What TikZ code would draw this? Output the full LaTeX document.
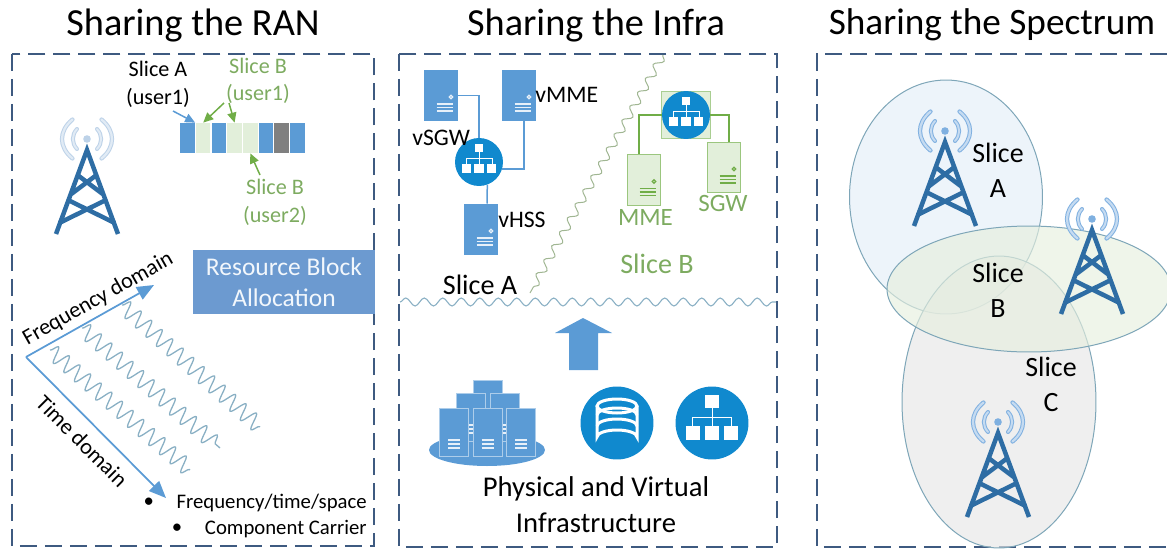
\documentclass[tikz,border=0pt]{standalone}
\usepackage{fontspec}
\setmainfont{Carlito}
\usetikzlibrary{positioning, arrows.meta, calc, shapes.geometric, decorations.pathmorphing}

\definecolor{framec}{HTML}{3E5A80}
\definecolor{srvblue}{HTML}{5B9BD5}
\definecolor{srvgreen}{HTML}{E2EFDA}
\definecolor{linegreen}{HTML}{70AD47}
\definecolor{textgreen}{HTML}{7DAB60}
\definecolor{hubblue}{HTML}{1089CE}
\definecolor{towerblue}{HTML}{2E6DA4}
\definecolor{wavepale}{HTML}{BDD2E8}
\definecolor{wavemid}{HTML}{7FB0E0}
\definecolor{snakec}{HTML}{8AB0C4}
\definecolor{rimc}{HTML}{7EA6B8}
\definecolor{cella}{HTML}{E4EEF8}
\definecolor{cellb}{HTML}{E6EFDE}
\definecolor{cellc}{HTML}{E6E6E6}
\definecolor{boxblue}{HTML}{6C9AD0}

\begin{document}
\begin{tikzpicture}[
        x=0.02cm, y=-0.02cm, % 1 unit = 1 pixel of the picture
        % --- STYLES ---
        panel/.style={
                draw=framec,
                line width=0.04cm,
                dash pattern=on 0.34cm off 0.16cm
            },
        titletxt/.style={
                font=\fontsize{#1}{24}\selectfont,
                inner sep=0
            },
        txt/.style={
                font=\fontsize{#1}{\the\dimexpr#1pt*5/4\relax}\selectfont,
                align=center,
                inner sep=0
            },
        slot/.style={
                minimum width=0.29cm,
                minimum height=0.6cm,
                inner sep=0,
                fill=#1
            },
        ptr/.style={
                -{Triangle[length=0.2cm, width=0.18cm]},
                line width=0.03cm,
                color=#1
            },
        axis/.style={
                -{Triangle[length=0.34cm, width=0.28cm]},
                line width=0.035cm,
                color=srvblue
            },
        ripple/.style={
                draw=snakec,
                line width=0.026cm,
                decorate,
                decoration={snake, amplitude=0.16cm, segment length=0.28cm}
            },
        link/.style={
                line width=0.03cm,
                color=#1
            },
        cell/.style={
                draw=rimc,
                line width=0.02cm,
                fill=#1,
                fill opacity=0.65
            },
        % --- ICONS ---
        pics/tower/.style={code={
                    \foreach \sgn in {-1,1}{
                            \draw[draw=#1, double=#1!45!white, line width=0.02cm, double distance=0.04cm, line cap=round]
                            ($(0,-11)+(\sgn*10,-10)$) .. controls ($(0,-11)+(\sgn*15.5,-4)$) and ($(0,-11)+(\sgn*15.5,4)$) .. ($(0,-11)+(\sgn*10,10)$);
                            \draw[draw=#1, double=#1!45!white, line width=0.02cm, double distance=0.045cm, line cap=round]
                            ($(0,-11)+(\sgn*14.5,-19.5)$) .. controls ($(0,-11)+(\sgn*28.5,-8)$) and ($(0,-11)+(\sgn*28.5,8)$) .. ($(0,-11)+(\sgn*14.5,19.5)$);
                        }
                    \fill[#1] (0,-11) circle[radius=3.8];
                    \draw[towerblue, line width=0.09cm, line join=miter]
                    (-31,84) -- (0,0) -- (31,84)
                    (-9.5,25) -- (17,45) (9.5,25) -- (-17,45)
                    (-19,50) -- (27.8,73) (19,50) -- (-27.8,73);
                }},
        pics/server/.style n args={3}{code={
                    \node[minimum width=0.66cm, minimum height=1.02cm, inner sep=0, fill=#1, draw=#2, line width=0.02cm] (-box) {};
                    \draw[#3, line width=0.025cm] (10.5,1.5) circle[radius=1.7];
                    \draw[#3, line width=0.025cm] (-4,8.5) -- (12,8.5) (-4,12) -- (12,12) (-4,15.5) -- (12,15.5);
                }},
        pics/rack/.style={code={
                    \node[minimum width=0.58cm, minimum height=0.96cm, inner sep=0, fill=srvblue, draw=white!50!srvblue, line width=0.015cm] (-box) {};
                    \draw[white!85!srvblue, line width=0.025cm] (-6,8) -- (6,8) (-6,12) -- (6,12) (-6,16) -- (6,16);
                }},
        pics/hub/.style={code={
                    \node[circle, minimum size=0.96cm, inner sep=0, fill=hubblue, transform shape] (-c) {};
                    \draw[white, line width=0.012cm] (0,-14) -- (0,6.5) (-12.8,6.5) -- (-12.8,-4) -- (12.8,-4) -- (12.8,6.5);
                    \foreach \px/\py/\ps in {0/-14.2/4.3, -12.8/6.5/4.6, 0/6.5/4.6, 12.8/6.5/4.6}{
                            \fill[white] (\px-\ps,\py-\ps) rectangle (\px+\ps,\py+\ps);
                        }
                }}
    ]

    \useasboundingbox (0,0) rectangle (1167,548);

    % 1. Titles
    \node[titletxt=21.8] (title_ran) at (193,25) {Sharing the RAN};
    \node[titletxt=21.8] (title_infra) at (596,25) {Sharing the Infra};
    \node[titletxt=21.2] (title_spec) at (992,25) {Sharing the Spectrum};

    % 2. Panel frames
    \draw[panel] (12,54) rectangle (374,546);
    \draw[panel] (399,54) rectangle (777,547);
    \draw[panel] (1167,54) -- (817,54) -- (817,547) -- (1167,547);

    % --- PANEL: RAN ---
    \pic at (87,150) {tower=wavepale};

    % Slots of the resource grid
    \foreach \i/\c in {1/srvblue, 2/srvgreen, 3/srvblue, 4/srvgreen, 5/srvgreen, 6/srvblue, 7/black!50, 8/srvblue}{
            \node[slot=\c] (cell_\i) at ({171.8+\i*15.7},138) {};
        }

    \node[txt=12.6] (lbl_a) at (158,84.5) {Slice A\\(user1)};
    \node[txt=12.6, textgreen] (lbl_b1) at (258,81) {Slice B\\(user1)};
    \node[txt=12.6, textgreen] (lbl_b2) at (275,202.5) {Slice B\\(user2)};

    \coordinate (ptr_a) at (173,111);
    \coordinate (ptr_b) at (224,103);
    \coordinate (ptr_c) at (229,103);
    \coordinate (ptr_d) at (260,175);
    \draw[ptr=srvblue] (ptr_a) -- (cell_1.north east);
    \draw[ptr=linegreen] (ptr_b) -- (cell_2.north);
    \draw[ptr=linegreen] (ptr_c) -- (cell_4.north);
    \draw[ptr=linegreen] (ptr_d) -- (cell_5.south);

    % Resource block box
    \node[minimum width=3.64cm, minimum height=1.28cm, inner sep=0, fill=boxblue, text=white!92!srvblue, font=\fontsize{14.5}{17.6}\selectfont, align=center] (rb_box) at (284,282) {Resource Block\\Allocation};

    % Axes and carriers
    \coordinate (origin) at (26,357);
    \coordinate (freq_end) at (154,285);
    \coordinate (time_end) at (166,498);
    \draw[axis] (origin) -- (freq_end);
    \draw[axis] (origin) -- (time_end);
    \node[txt=12.7, rotate=29.5] (lbl_freq) at (98,299) {Frequency domain};
    \node[txt=12.7, rotate=-45] (lbl_time) at (82,441) {Time domain};

    \draw[ripple] (50,350) -- (190,470);
    \draw[ripple] (82,328) -- (220,448);
    \draw[ripple] (122,305) -- (260,427);

    \node[txt=11.8, anchor=east] (item_a) at (367,503) {Frequency/time/space};
    \node[txt=11.8, anchor=east] (item_b) at (367,529) {Component Carrier};
    \node[txt=11.8, left=0.44cm of item_a] (dot_a) {\textbullet};
    \node[txt=11.8, left=0.44cm of item_b] (dot_b) {\textbullet};

    % --- PANEL: INFRA ---
    % Slice A
    \pic (srv_sgw) at (440.5,95.5) {server={srvblue}{srvblue}{white!85!srvblue}};
    \pic (srv_mme) at (518.5,95.5) {server={srvblue}{srvblue}{white!85!srvblue}};
    \pic (srv_hss) at (480.5,229.5) {server={srvblue}{srvblue}{white!85!srvblue}};
    \pic (hub_a) at (479,162) {hub};

    \draw[link=srvblue] (srv_sgw-box.east) -| (hub_a-c.north);
    \draw[link=srvblue] (hub_a-c.-17) -| ([xshift=0.11cm]srv_mme-box.south);
    \draw[link=srvblue] (hub_a-c.-70) -- ([xshift=0.13cm]srv_hss-box.north);

    \node[txt=13.5, anchor=west] (lbl_vmme) at (535,95) {vMME};
    \node[txt=13.5, anchor=west] (lbl_vsgw) at (412,138) {vSGW};
    \node[txt=13.5, anchor=west] (lbl_vhss) at (498,220) {vHSS};
    \node[txt=16] (lbl_slice_a) at (480,285) {Slice A};

    % Slice B
    \node[fill=srvgreen, draw=linegreen!60, minimum width=0.98cm, minimum height=0.94cm, inner sep=0] (sq_b) at (685.5,114.5) {};
    \pic (hub_b) at (686,115) {hub};
    \pic (srv_mme_b) at (643.5,180) {server={srvgreen}{linegreen!70}{linegreen}};
    \pic (srv_sgw_b) at (723.5,167.5) {server={srvgreen}{linegreen!70}{linegreen}};

    \draw[link=linegreen] (hub_b-c.west) -| ([xshift=-0.09cm]srv_mme_b-box.north);
    \draw[link=linegreen] (hub_b-c.east) -| ([xshift=0.11cm]srv_sgw_b-box.north);

    \node[txt=14.2, textgreen] (lbl_mme) at (645.5,217) {MME};
    \node[txt=14.2, textgreen] (lbl_sgw) at (723,203) {SGW};
    \node[txt=16, textgreen] (lbl_slice_b) at (657,264) {Slice B};

    % Separators
    \draw[draw=linegreen!50!gray!70, line width=0.02cm, decorate, decoration={snake, amplitude=0.08cm, segment length=0.32cm}] (663,55) -- (530,293);
    \draw[draw=snakec, line width=0.022cm, decorate, decoration={snake, amplitude=0.08cm, segment length=0.37cm}] (400,302) -- (776,302);

    % Arrow between layers
    \fill[srvblue] (583,318) -- (612,333) -- (598,333) -- (598,370) -- (569,370) -- (569,333) -- (555,333) -- cycle;

    % Physical racks
    \node[ellipse, fill=srvblue, minimum width=2.32cm, minimum height=0.64cm, inner sep=0] (rack_base) at (487,450) {};
    \pic (rack_top) at (487.5,404) {rack};
    \pic (rack_ml) at (471,417) {rack};
    \pic (rack_mr) at (504.5,417) {rack};
    \pic (rack_fl) at (454,432) {rack};
    \pic (rack_fc) at (487.5,432) {rack};
    \pic (rack_fr) at (521,432) {rack};

    % Database and core hub
    \node[circle, minimum size=1.46cm, inner sep=0, fill=hubblue] (db_disc) at (617,423) {};
    \draw[white, line width=0.06cm] (597,406) -- (597,437) arc (180:360:20 and 7) -- (637,406);
    \draw[white, line width=0.06cm] (617,406) ellipse[x radius=20, y radius=7];
    \foreach \lev in {415,426}{
            \draw[white, line width=0.06cm] (597,\lev) arc (180:360:20 and 7);
        }
    \pic (hub_core) at (712,423) [scale=1.52] {hub};

    \node[txt=16.3] (lbl_phys) at (596,505) {Physical and Virtual\\Infrastructure};

    % --- PANEL: SPECTRUM ---
    \node[ellipse, cell=cella, minimum width=3.86cm, minimum height=4.68cm, inner sep=0] (cell_a) at (946,197) {};
    \node[ellipse, cell=cellc, minimum width=3.88cm, minimum height=5.84cm, inner sep=0] (cell_c) at (999,402) {};
    \node[ellipse, cell=cellb, minimum width=5.68cm, minimum height=2.52cm, inner sep=0] (cell_b) at (1029,289) {};

    \pic at (945,142) {tower=wavemid};
    \pic at (1092,230) {tower=wavemid};
    \pic at (998,433) {tower=wavemid};

    \node[txt=15.9] (lbl_sa) at (998,170) {Slice\\A};
    \node[txt=15.9] (lbl_sb) at (998,290) {Slice\\B};
    \node[txt=15.9] (lbl_sc) at (1051,384) {Slice\\C};

\end{tikzpicture}
\end{document}
